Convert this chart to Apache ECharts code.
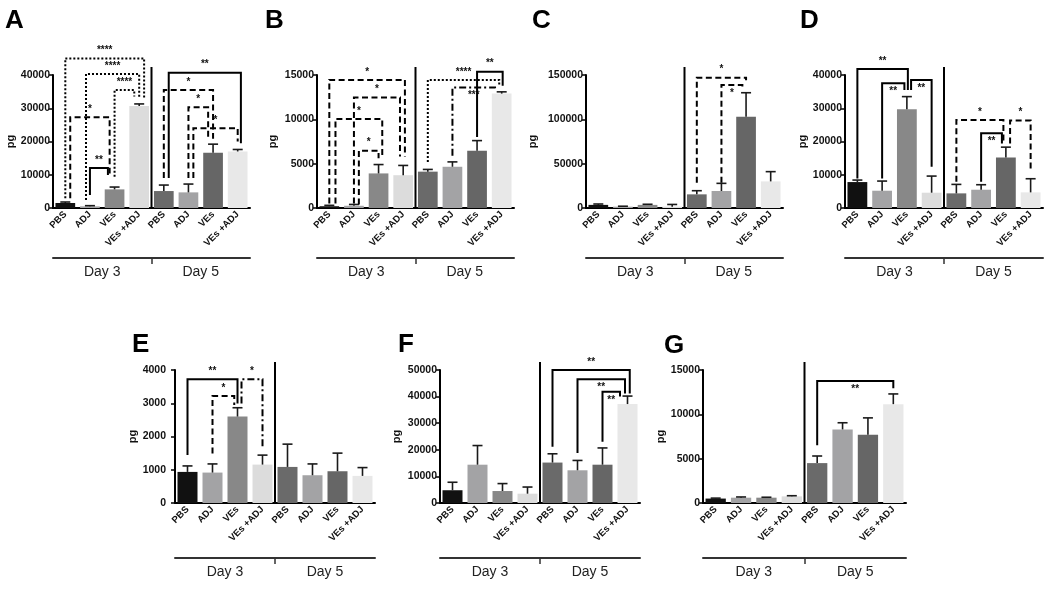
<!DOCTYPE html>
<html>
<head>
<meta charset="utf-8">
<script src="https://cdn.jsdelivr.net/npm/echarts@6/dist/echarts.min.js"></script>
<style>html,body{margin:0;padding:0;background:#fff}#chart{width:1050px;height:590px}</style>
</head>
<body>
<div id="chart"></div>
<script>
// ---------- data ----------
const categories = ['PBS', 'ADJ', 'VEs', 'VEs +ADJ', 'PBS', 'ADJ', 'VEs', 'VEs +ADJ'];
const dayLabels = ['Day 3', 'Day 5'];
const panelLetters = ['A', 'B', 'C', 'D', 'E', 'F', 'G'];

// bar means and error-bar tops (mean + SEM)
const meanA = [1500, 500, 5600, 30700, 5100, 4700, 16600, 17000];
const errA  = [1800, 700, 6300, 31300, 6900, 7200, 19200, 17600];
const meanB = [200, 250, 3900, 3700, 4100, 4650, 6450, 12900];
const errB  = [300, 400, 4900, 4800, 4350, 5200, 7600, 13100];
const meanC = [3500, 1500, 3500, 1500, 15400, 19200, 103000, 30000];
const errC  = [4500, 2000, 4200, 4000, 19500, 27800, 130000, 41000];
const meanD = [7800, 5200, 29700, 4600, 4400, 5500, 15200, 4700];
const errD  = [8400, 8100, 33500, 9600, 7100, 7000, 18300, 8800];
const meanE = [935, 915, 2600, 1155, 1085, 835, 955, 815];
const errE  = [1115, 1175, 2865, 1440, 1770, 1175, 1500, 1065];
const meanF = [4800, 14400, 4500, 3500, 15200, 12300, 14400, 37200];
const errF  = [7800, 21600, 7300, 6000, 18500, 16000, 20700, 40200];
const meanG = [500, 600, 600, 750, 4500, 8300, 7700, 11150];
const errG  = [550, 680, 650, 820, 5300, 9050, 9600, 12300];

// y-axis maxima and tick steps
const yMax = [40000, 15000, 150000, 40000, 4000, 50000, 15000];
const yStep = [10000, 5000, 50000, 10000, 1000, 10000, 5000];

// significance brackets: [from, to, top, leftBottom, rightBottom, label, line, labelSide, legShiftL, legShiftR]
const bracketsA = [
  [0, 3, 45000, 2900, 33000, '****', 'dot', 1, 0, 0.2],
  [1, 3, 40300, 2400, 33000, '****', 'dot', 1, -0.16, 0],
  [2, 3, 35500, 9400, 33500, '****', 'dot', 1, 0, -0.2],
  [0, 2, 27300, 2900, 10400, '*', 'dash', 1, 0.2, -0.2],
  [1, 2, 12000, 3900, 9900, '**', 'solid', 1, 0, -0.27],
  [4, 7, 40700, 9000, 19500, '**', 'solid', 1, 0.2, 0.13],
  [4, 6, 35500, 9000, 20800, '*', 'dash', 1, 0, 0],
  [5, 6, 30300, 9000, 20800, '*', 'dash', 1, 0, -0.2],
  [5, 7, 24000, 9000, 20000, '*', 'dash', 1, 0.2, 0]
];
const bracketsB = [
  [0, 3, 14450, 500, 5800, '*', 'dash', 1, 0, 0.07],
  [1, 3, 12450, 500, 5800, '*', 'dash', 1, 0, -0.13],
  [0, 2, 10040, 500, 5600, '*', 'dash', 1, 0.25, 0.15],
  [1, 2, 6470, 400, 5600, '*', 'dash', 1, 0.2, 0],
  [4, 7, 14450, 5200, 13700, '****', 'dot', 1, 0, -0.1],
  [5, 7, 13600, 5900, 13500, '***', 'dashdot', -1, 0, -0.27],
  [6, 7, 15380, 8000, 13800, '**', 'solid', 1, 0, 0.04]
];
const bracketsC = [
  [4, 6, 147000, 28600, 144000, '*', 'dash', 1, 0, 0],
  [5, 6, 138700, 28600, 136000, '*', 'dash', -1, 0, -0.15]
];
const bracketsD = [
  [0, 2, 41800, 8900, 35500, '**', 'solid', 1, 0, 0.04],
  [1, 2, 37500, 8900, 35500, '**', 'solid', -1, 0, -0.1],
  [2, 3, 38500, 35500, 12400, '**', 'solid', -1, 0.17, 0],
  [4, 6, 26500, 7900, 19400, '*', 'dash', 1, 0, -0.1],
  [5, 6, 22500, 7900, 19400, '**', 'solid', -1, 0, -0.16],
  [6, 7, 26300, 19400, 11400, '*', 'dash', 1, 0.17, 0]
];
const bracketsE = [
  [0, 2, 3720, 1440, 2995, '**', 'solid', 1, 0, 0],
  [1, 2, 3216, 1490, 2945, '*', 'dash', 1, 0, -0.13],
  [2, 3, 3720, 2995, 1640, '*', 'dashdot', 1, 0.16, 0]
];
const bracketsF = [
  [4, 7, 50000, 21100, 41200, '**', 'solid', 1, 0, 0.09],
  [5, 7, 46500, 18800, 41200, '**', 'solid', -1, 0, -0.1],
  [6, 7, 41800, 23000, 40000, '**', 'solid', -1, 0, -0.3]
];
const bracketsG = [
  [4, 7, 13760, 6520, 12930, '**', 'solid', -1, 0, 0]
];

const barColors = ['#111111', '#a3a3a5', '#888888', '#dcdcdc', '#6a6a6a', '#a3a3a5', '#666666', '#e8e8e8'];

// ---------- layout ----------
const means = [meanA, meanB, meanC, meanD, meanE, meanF, meanG];
const errs = [errA, errB, errC, errD, errE, errF, errG];
const brackets = [bracketsA, bracketsB, bracketsC, bracketsD, bracketsE, bracketsF, bracketsG];
const grids = [
  {left: 53, top: 75, width: 197, height: 133},
  {left: 317, top: 75, width: 197, height: 133},
  {left: 586, top: 75, width: 197, height: 133},
  {left: 845, top: 75, width: 198, height: 133},
  {left: 175, top: 370, width: 200, height: 133},
  {left: 440, top: 370, width: 200, height: 133},
  {left: 703, top: 370, width: 203, height: 133}
];
const yOffsets = [0, 0, 0, 0, 6, 0, 0];
const nameGaps = [35, 39, 48, 37, 27, 38, 35];
const letterPos = [[5, 8], [265, 8], [532, 8], [800, 8], [132, 332], [398, 332], [664, 333]];
const dayOffsets = [50, 50, 50, 50, 55, 55, 55];

const FONT = '"Liberation Sans", Arial, sans-serif';
const dashes = {solid: null, dash: [6, 3.5], dot: [2, 2], dashdot: [7, 3, 2, 3]};

const option = {
  animation: false,
  backgroundColor: '#fff',
  title: [], grid: [], xAxis: [], yAxis: [], series: []
};

for (let p = 0; p < 7; p++) {
  option.title.push({
    text: panelLetters[p], left: letterPos[p][0], top: letterPos[p][1], padding: 0,
    textStyle: {fontFamily: FONT, fontWeight: 900, fontSize: 26, color: '#000'}
  });
  option.grid.push(Object.assign({containLabel: false}, grids[p]));
  option.xAxis.push({
    type: 'category', gridIndex: p, data: categories,
    axisLine: {lineStyle: {color: '#000', width: 2}},
    axisTick: {alignWithLabel: true, length: 4, lineStyle: {color: '#000', width: 1.5}},
    axisLabel: {rotate: 45, interval: 0, margin: 5, fontFamily: FONT, fontWeight: 'bold', fontSize: 9.5, color: '#111'}
  });
  option.xAxis.push({
    type: 'value', gridIndex: p, min: 0, max: 2, position: 'bottom', offset: dayOffsets[p],
    axisLine: {show: true, onZero: false, lineStyle: {color: '#333', width: 2}},
    axisTick: {show: true, customValues: [1], length: 6, lineStyle: {color: '#333', width: 1.5}},
    axisLabel: {customValues: [0.5, 1.5], formatter: v => dayLabels[Math.floor(v)], margin: 7,
      fontFamily: FONT, fontSize: 14, color: '#222'},
    splitLine: {show: false}
  });
  option.yAxis.push({
    type: 'value', gridIndex: p, min: 0, max: yMax[p], interval: yStep[p], offset: yOffsets[p],
    name: 'pg', nameLocation: 'middle', nameGap: nameGaps[p],
    nameTextStyle: {fontFamily: FONT, fontWeight: 'bold', fontSize: 11, color: '#111'},
    axisLine: {show: true, lineStyle: {color: '#000', width: 2}},
    axisTick: {show: true, length: 4, lineStyle: {color: '#000', width: 1.5}},
    axisLabel: {margin: 3, formatter: v => String(v), fontFamily: FONT, fontWeight: 'bold', fontSize: 10.5, color: '#111'},
    splitLine: {show: false}
  });
  const xi = p * 2;
  // bars
  option.series.push({
    type: 'bar', xAxisIndex: xi, yAxisIndex: p, barWidth: '80%',
    data: means[p].map((v, i) => ({value: v, itemStyle: {color: barColors[i]}}))
  });
  // error bars
  option.series.push({
    type: 'custom', xAxisIndex: xi, yAxisIndex: p, z: 3,
    data: means[p].map((v, i) => [i, v, errs[p][i]]),
    renderItem: (params, api) => {
      const a = api.coord([api.value(0), api.value(1)]);
      const b = api.coord([api.value(0), api.value(2)]);
      const st = {stroke: '#1a1a1a', lineWidth: 1.6};
      return {type: 'group', children: [
        {type: 'line', shape: {x1: a[0], y1: a[1], x2: b[0], y2: b[1]}, style: st},
        {type: 'line', shape: {x1: b[0] - 5, y1: b[1], x2: b[0] + 5, y2: b[1]}, style: st}
      ]};
    }
  });
  // day divider
  option.series.push({
    type: 'custom', xAxisIndex: xi, yAxisIndex: p, z: 4,
    data: [[3, yMax[p]]],
    renderItem: (params, api) => {
      const a = api.coord([3, 0]);
      const b = api.coord([4, yMax[p]]);
      const x = (a[0] + b[0]) / 2;
      return {type: 'line', shape: {x1: x, y1: a[1], x2: x, y2: b[1] - 8},
        style: {stroke: '#000', lineWidth: 2}};
    }
  });
  // significance brackets
  const br = brackets[p];
  option.series.push({
    type: 'custom', xAxisIndex: xi, yAxisIndex: p, z: 5,
    data: br.map(b => [b[0], b[2]]),
    renderItem: (params, api) => {
      const b = br[params.dataIndex];
      const band = api.size([1, 0])[0];
      const l = api.coord([b[0], b[2]]);
      const r = api.coord([b[1], b[2]]);
      const xl = l[0] + b[8] * band;
      const xr = r[0] + b[9] * band;
      const yt = l[1];
      const yl = api.coord([b[0], b[3]])[1];
      const yr = api.coord([b[1], b[4]])[1];
      const st = {stroke: '#000', lineWidth: 2, fill: null, lineDash: dashes[b[6]]};
      const cx = (xl + xr) / 2;
      return {type: 'group', children: [
        {type: 'polyline', shape: {points: [[xl, yl], [xl, yt], [xr, yt], [xr, yr]]}, style: st},
        {type: 'text', x: cx, y: b[7] > 0 ? yt - 3 : yt + 3,
          style: {text: b[5], align: 'center', verticalAlign: b[7] > 0 ? 'bottom' : 'top',
            font: 'bold 10px ' + FONT, fill: '#111'}}
      ]};
    }
  });
}

const chart = echarts.init(document.getElementById('chart'), null, {renderer: 'canvas'});
chart.setOption(option);
</script>
</body>
</html>
